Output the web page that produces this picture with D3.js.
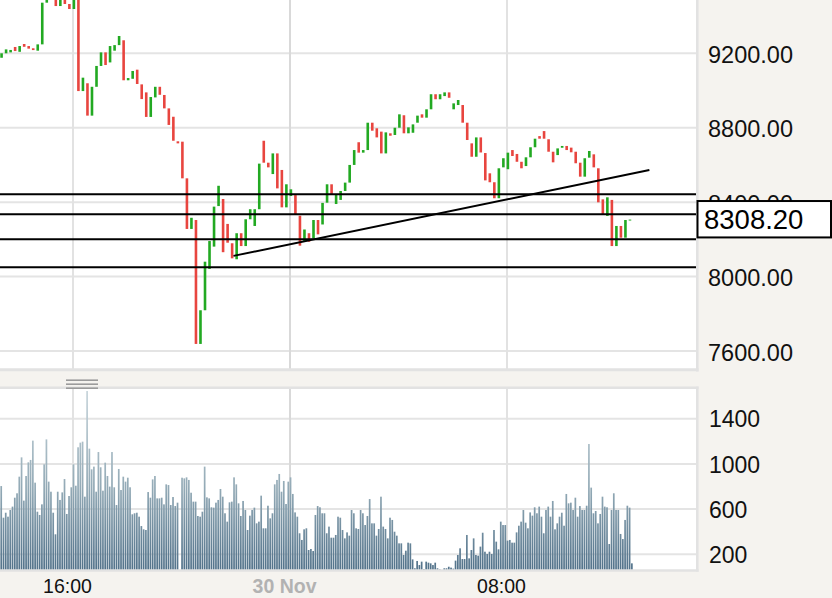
<!DOCTYPE html>
<html><head><meta charset="utf-8">
<script src="https://cdn.jsdelivr.net/npm/d3@7"></script>
<style>
html,body{margin:0;padding:0;background:#f5f3ef;overflow:hidden}
svg{display:block}
</style></head><body>
<svg id="c" width="832" height="598"></svg>
<script>
// ---------------- DATA ----------------
const candleStart = new Date(2017, 10, 29, 13, 20);
const candleMinutes = 10;
const opens = [
9176,9200,9205,9234,9208,9250,9239,9227,9214,9248,
9472,9510,9530,9454,9500,9465,9438,9495,8997,9039,
8865,9020,9132,9205,9151,9214,9244,9270,9055,9063,
9112,9033,8990,8858,8963,9020,8976,8904,8859,8727,
8725,8528,8256,8304,7638,7819,8041,8161,8379,8417,
8283,8179,8093,8233,8164,8308,8272,8362,8730,8612,
8551,8662,8573,8372,8433,8438,8327,8186,8233,8206,
8304,8280,8397,8496,8390,8412,8460,8505,8600,8722,
8666,8680,8827,8797,8779,8662,8770,8761,8800,8867,
8770,8773,8827,8872,8854,8899,8980,8953,8970,8990,
8899,8922,8922,8827,8716,8644,8748,8664,8555,8507,
8421,8587,8577,8680,8659,8617,8594,8641,8695,8755,
8782,8738,8671,8653,8693,8702,8693,8671,8612,8537,
8639,8657,8582,8415,8326,8412,8164,8272,8209,8304];
const closes = [
9200,9221,9218,9212,9239,9235,9225,9219,9248,9472,
9505,9540,9454,9495,9465,9438,9495,8997,9069,8865,
9020,9132,9205,9137,9239,9244,9293,9055,9067,9105,
9035,8954,8858,8965,9020,8977,8904,8815,8730,8716,
8528,8256,8316,7638,7819,8080,8191,8376,8488,8131,
8182,8098,8233,8164,8308,8362,8362,8607,8612,8587,
8662,8474,8372,8496,8469,8336,8166,8253,8187,8304,
8227,8396,8496,8444,8444,8460,8505,8600,8680,8666,
8680,8827,8784,8748,8662,8775,8757,8800,8872,8770,
8802,8818,8865,8854,8899,8980,8953,8980,8990,8961,
8931,8949,8827,8734,8644,8748,8667,8517,8507,8421,
8582,8636,8666,8648,8617,8582,8641,8695,8741,8741,
8741,8671,8614,8689,8702,8680,8668,8609,8537,8636,
8675,8587,8399,8335,8426,8164,8272,8209,8304,8308.2];

const volumeStart = new Date(2017, 10, 29, 13, 20);
const volumeMinutes = 5;
const volumes = [
804,524,568,533,592,622,701,740,887,1058,
675,893,1014,1035,1206,834,577,548,642,996,
1217,843,754,568,377,754,681,748,866,557,
716,793,996,807,1147,1188,1197,710,1645,1135,
952,976,754,1105,970,763,1011,893,799,1105,
793,636,955,769,887,843,878,793,554,563,
568,533,450,421,415,
751,701,863,893,695,695,701,642,819,813,
636,707,627,657,0,
878,872,881,858,745,666,666,539,533,577,
976,704,695,616,613,657,681,778,710,563,
489,660,666,881,819,651,
539,672,592,415,542,592,613,474,489,719,
430,430,630,518,563,819,858,911,754,849,
645,843,881,734,571,533,386,327,421,430,
238,247,229,548,627,
616,563,563,386,445,347,347,371,533,524,
415,341,394,365,592,563,430,424,592,563,
459,539,689,474,474,365,424,710,445,424,
341,524,504,400,365,297,297,194,232,303,
297,155,76,141,105,135,70,135,126,120,
105,126,76,67,61,76,76,90,82,73,
144,194,253,158,158,371,164,238,341,194,
188,268,391,223,203,223,203,415,312,244,
489,459,459,321,327,303,303,394,453,489,
592,480,430,571,542,616,563,622,533,386,
592,622,533,672,421,474,533,568,453,734,
651,657,592,701,533,627,592,592,630,1176,
790,563,583,474,557,710,622,616,291,592,
740,592,592,380,335,504,630,613,120];

const priceTicks = [7600, 8000, 8400, 8800, 9200];
const volumeTicks = [200, 600, 1000, 1400];
const timeTicks = [new Date(2017, 10, 29, 16, 0), new Date(2017, 10, 30, 0, 0), new Date(2017, 10, 30, 8, 0)];
const timeTickLabels = ["16:00", "30 Nov", "08:00"];
const levelLines = [8443, 8335, 8201, 8050];
const trendTimes = [new Date(2017, 10, 29, 21, 55), new Date(2017, 10, 30, 13, 15)];
const trendValues = [8111, 8573];
const lastPrice = 8308.20;

// ---------------- LAYOUT ----------------
const plotRight = 697;
const priceTop = 0, priceBottom = 369;
const volTop = 388, volBottom = 570;
const FONT = "'Liberation Sans', Arial, Helvetica, sans-serif";

const candles = opens.map((o, i) => ({
  t: new Date(candleStart.getTime() + i * candleMinutes * 60000),
  o, c: closes[i], live: i === opens.length - 1
}));
const vols = volumes.map((v, i) => ({
  t: new Date(volumeStart.getTime() + i * volumeMinutes * 60000), v
}));

const x = d3.scaleTime().domain([timeTicks[0], timeTicks[2]]).range([73, 507]);
const yP = d3.scaleLinear().domain([7600, 9200]).range([351, 53.3]);
const yV = d3.scaleLinear().domain([200, 1400]).range([554.3, 418.7]);

const svg = d3.select("#c");
const defs = svg.append("defs");
defs.append("clipPath").attr("id", "clipP").append("rect")
  .attr("x", 0).attr("y", priceTop).attr("width", plotRight).attr("height", priceBottom - priceTop);
defs.append("clipPath").attr("id", "clipV").append("rect")
  .attr("x", 0).attr("y", volTop).attr("width", plotRight).attr("height", volBottom - volTop);
const grad = defs.append("linearGradient").attr("id", "vg")
  .attr("gradientUnits", "userSpaceOnUse").attr("x1", 0).attr("x2", 0).attr("y1", volTop).attr("y2", volBottom);
grad.append("stop").attr("offset", "0%").attr("stop-color", "#c9d6dc");
grad.append("stop").attr("offset", "55%").attr("stop-color", "#93aab6");
grad.append("stop").attr("offset", "100%").attr("stop-color", "#52728a");

// panel backgrounds
svg.append("rect").attr("x", 0).attr("y", -2).attr("width", plotRight).attr("height", priceBottom + 2).attr("fill", "#fff");
svg.append("rect").attr("x", 0).attr("y", volTop).attr("width", plotRight).attr("height", volBottom - volTop).attr("fill", "#fff");

// grid - price
const gP = svg.append("g").attr("clip-path", "url(#clipP)");
gP.selectAll("line.hg").data(priceTicks).join("line").attr("class", "hg")
  .attr("x1", 0).attr("x2", plotRight).attr("y1", d => yP(d)).attr("y2", d => yP(d))
  .attr("stroke", "#e4e4e4").attr("stroke-width", 2);
gP.selectAll("line.vg").data(timeTicks).join("line").attr("class", "vg")
  .attr("x1", d => x(d)).attr("x2", d => x(d)).attr("y1", priceTop).attr("y2", priceBottom)
  .attr("stroke", (d, i) => i === 1 ? "#d9d9d9" : "#e2e2e2").attr("stroke-width", 2);

// grid - volume
const gV = svg.append("g").attr("clip-path", "url(#clipV)");
gV.selectAll("line.hg").data(volumeTicks).join("line").attr("class", "hg")
  .attr("x1", 0).attr("x2", plotRight).attr("y1", d => yV(d)).attr("y2", d => yV(d))
  .attr("stroke", "#e4e4e4").attr("stroke-width", 2);
gV.selectAll("line.vg").data(timeTicks).join("line").attr("class", "vg")
  .attr("x1", d => x(d)).attr("x2", d => x(d)).attr("y1", volTop).attr("y2", volBottom)
  .attr("stroke", (d, i) => i === 1 ? "#d9d9d9" : "#e2e2e2").attr("stroke-width", 2);

// volume bars
gV.selectAll("rect.vb").data(vols).join("rect").attr("class", "vb")
  .attr("x", d => x(d.t) - 0.3).attr("width", 1.7)
  .attr("y", d => yV(d.v)).attr("height", d => Math.max(0, yV(0) - yV(d.v)))
  .attr("fill", "url(#vg)");

// candles
gP.selectAll("rect.cd").data(candles).join("rect").attr("class", "cd")
  .attr("x", d => x(d.t) - 0.4).attr("width", 2.6)
  .attr("y", d => Math.min(yP(d.o), yP(d.c)))
  .attr("height", d => Math.max(1.8, Math.abs(yP(d.o) - yP(d.c))))
  .attr("fill", d => d.c >= d.o ? "#22a922" : "#e8453f")
  .attr("opacity", d => d.live ? 0.55 : 1);

// horizontal levels
gP.selectAll("line.lv").data(levelLines).join("line").attr("class", "lv")
  .attr("x1", 0).attr("x2", plotRight).attr("y1", d => yP(d)).attr("y2", d => yP(d))
  .attr("stroke", "#000").attr("stroke-width", 2);

// trend line
gP.append("line")
  .attr("x1", x(trendTimes[0])).attr("y1", yP(trendValues[0]))
  .attr("x2", x(trendTimes[1])).attr("y2", yP(trendValues[1]))
  .attr("stroke", "#000").attr("stroke-width", 1.9);

// borders
const border = "#e2e2e2";
svg.append("line").attr("x1", plotRight + 0.3).attr("x2", plotRight + 0.3).attr("y1", -2).attr("y2", priceBottom + 2.5)
  .attr("stroke", border).attr("stroke-width", 2.6);
svg.append("line").attr("x1", 0).attr("x2", plotRight + 1.6).attr("y1", priceBottom + 0.7).attr("y2", priceBottom + 0.7)
  .attr("stroke", border).attr("stroke-width", 3);
svg.append("line").attr("x1", 0).attr("x2", plotRight + 1.6).attr("y1", volTop - 0.2).attr("y2", volTop - 0.2)
  .attr("stroke", border).attr("stroke-width", 2.5);
svg.append("line").attr("x1", 0).attr("x2", plotRight + 1.6).attr("y1", volBottom + 0.5).attr("y2", volBottom + 0.5)
  .attr("stroke", border).attr("stroke-width", 2.5);
svg.append("line").attr("x1", plotRight + 0.3).attr("x2", plotRight + 0.3).attr("y1", volTop - 1.4).attr("y2", volBottom + 1.7)
  .attr("stroke", border).attr("stroke-width", 2.6);

// splitter handle
svg.selectAll("line.hd").data([0, 1, 2]).join("line").attr("class", "hd")
  .attr("x1", 66).attr("x2", 98).attr("y1", d => 380.2 + d * 4).attr("y2", d => 380.2 + d * 4)
  .attr("stroke", "#9b9b9b").attr("stroke-width", 1.6);

// price axis
const axP = svg.append("g").attr("transform", `translate(708,0)`)
  .call(d3.axisRight(yP).tickValues(priceTicks).tickFormat(d3.format(".2f")).tickSize(0).tickPadding(0));
axP.select(".domain").remove();
axP.attr("font-family", FONT).attr("font-size", 23.5);
axP.selectAll("text").attr("fill", "#111").attr("dy", "0.39em");

// volume axis
const axV = svg.append("g").attr("transform", `translate(709,0)`)
  .call(d3.axisRight(yV).tickValues(volumeTicks).tickFormat(d3.format("d")).tickSize(0).tickPadding(0));
axV.select(".domain").remove();
axV.attr("font-family", FONT).attr("font-size", 23);
axV.selectAll("text").attr("fill", "#111").attr("dy", "0.36em");

// time axis
const axT = svg.append("g").attr("transform", `translate(0,${volBottom + 2})`)
  .call(d3.axisBottom(x).tickValues(timeTicks).tickFormat((d, i) => timeTickLabels[i]).tickSize(0).tickPadding(0));
axT.select(".domain").remove();
axT.attr("font-family", FONT).attr("font-size", 19.5);
axT.selectAll("text").attr("y", 20.5).attr("dy", 0).attr("dx", -6)
  .attr("fill", (d, i) => i === 1 ? "#b2b2b2" : "#111")
  .attr("font-weight", (d, i) => i === 1 ? "bold" : "normal");

// last price box
const lp = svg.append("g");
lp.append("rect").attr("x", plotRight + 0.5).attr("y", yP(lastPrice) - 18.2)
  .attr("width", 133.5).attr("height", 36.4).attr("fill", "#fff").attr("stroke", "#000").attr("stroke-width", 2);
lp.append("text").attr("x", 704).attr("y", yP(lastPrice) + 10)
  .attr("font-family", FONT).attr("font-size", 27.5).attr("fill", "#000")
  .text(d3.format(".2f")(lastPrice));
</script>
</body></html>
